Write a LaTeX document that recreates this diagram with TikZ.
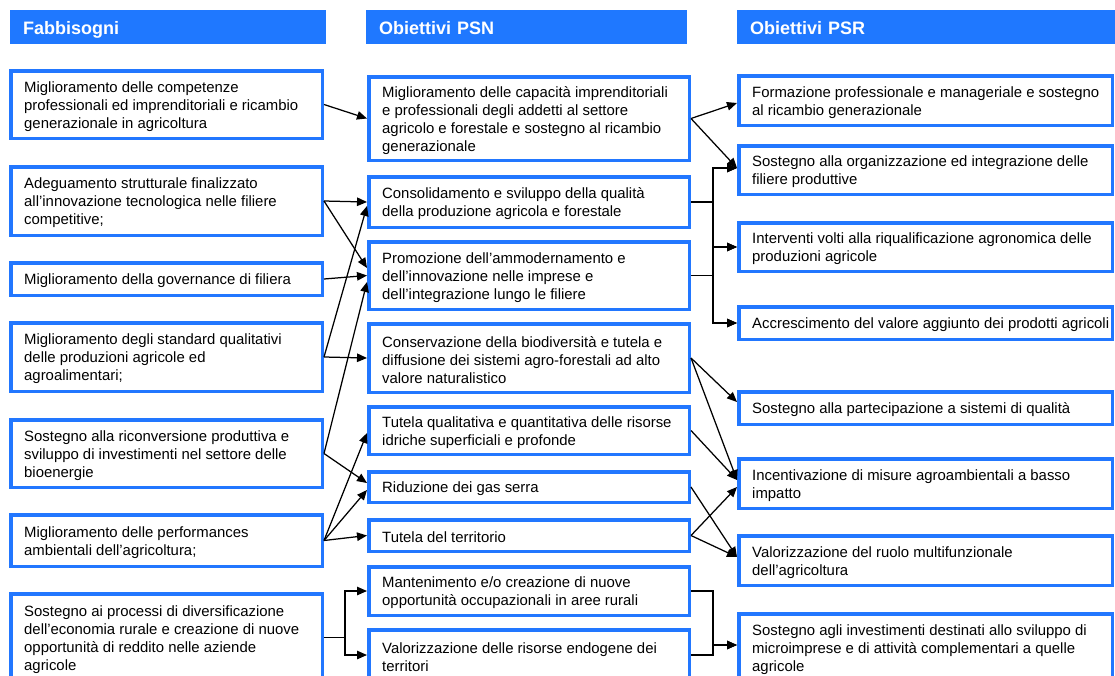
\documentclass[tikz,border=0pt]{standalone}
\usepackage{fontspec}
\setmainfont{Liberation Sans}
\usetikzlibrary{arrows.meta}
\definecolor{hdrblue}{RGB}{31,120,255}
\definecolor{edgeblue}{RGB}{34,119,255}

% \boxcell{name}{x1}{y1}{x2}{y2}{text}: framed box given by its outer edges,
% with its text set flush left inside it
\newcommand{\boxcell}[6]{%
  \pgfmathsetmacro{\cw}{#4-#2-3.5}%
  \pgfmathsetmacro{\ch}{#5-#3-3.5}%
  \node[cellbox, minimum width=\cw pt, minimum height=\ch pt] (#1) at ({(#2+#4)/2},{(#3+#5)/2}) {};
  \node[celltext] (#1t) at ([xshift=15pt,yshift=-2pt]#1.west) {#6};
}

\begin{document}
\begin{tikzpicture}[x=1pt,y=-1pt,
  hdr/.style={fill=hdrblue, draw=none, text=white, font=\fontsize{18}{21}\selectfont\bfseries,
    anchor=north west, minimum height=34pt, inner xsep=13pt, inner ysep=0pt, align=left,
    text height=14pt, text depth=0pt},
  cellbox/.style={draw=edgeblue, line width=3.5pt, fill=white, inner sep=0pt},
  celltext/.style={anchor=west, inner sep=0pt, align=left, font=\fontsize{14.9}{18}\selectfont},
  link/.style={draw=black, line width=1.25pt, -{Triangle[length=10pt,width=8.5pt]}},
]
\useasboundingbox (0,0) rectangle (1115,675);

% column headers
\node[hdr, text width=290pt] (h1) at (10,10) {Fabbisogni};
\node[hdr, text width=295pt] (h2) at (366,10) {Obiettivi PSN};
\node[hdr, text width=352pt] (h3) at (737,10) {Obiettivi PSR};

% needs
\boxcell{L1}{9}{69}{324}{140}{Miglioramento delle competenze\\professionali ed imprenditoriali e ricambio\\generazionale in agricoltura}
\boxcell{L2}{9}{165}{324}{237}{Adeguamento strutturale finalizzato\\all’innovazione tecnologica nelle filiere\\competitive;}
\boxcell{L3}{9}{261}{324}{297}{Miglioramento della governance di filiera}
\boxcell{L4}{9}{321}{324}{393}{Miglioramento degli standard qualitativi\\delle produzioni agricole ed\\agroalimentari;}
\boxcell{L5}{9}{418}{324}{489}{Sostegno alla riconversione produttiva e\\sviluppo di investimenti nel settore delle\\bioenergie}
\boxcell{L6}{9}{513}{324}{568}{Miglioramento delle performances\\ambientali dell’agricoltura;}
\boxcell{L7}{9}{592}{324}{683}{Sostegno ai processi di diversificazione\\dell’economia rurale e creazione di nuove\\opportunità di reddito nelle aziende\\agricole}

% PSN objectives
\boxcell{M1}{367}{75}{691}{162}{Miglioramento delle capacità imprenditoriali\\e professionali degli addetti al settore\\agricolo e forestale e sostegno al ricambio\\generazionale}
\boxcell{M2}{367}{175}{691}{229}{Consolidamento e sviluppo della qualità\\della produzione agricola e forestale}
\boxcell{M3}{367}{240}{691}{311}{Promozione dell’ammodernamento e\\dell’innovazione nelle imprese e\\dell’integrazione lungo le filiere}
\boxcell{M4}{367}{322}{691}{394}{Conservazione della biodiversità e tutela e\\diffusione dei sistemi agro-forestali ad alto\\valore naturalistico}
\boxcell{M5}{367}{405}{691}{456}{Tutela qualitativa e quantitativa delle risorse\\idriche superficiali e profonde}
\boxcell{M6}{367}{470}{691}{504}{Riduzione dei gas serra}
\boxcell{M7}{367}{518}{691}{553}{Tutela del territorio}
\boxcell{M8}{367}{565}{691}{617}{Mantenimento e/o creazione di nuove\\opportunità occupazionali in aree rurali}
\boxcell{M9}{367}{628}{691}{682}{Valorizzazione delle risorse endogene dei\\territori}

% PSR objectives
\boxcell{R1}{737}{74}{1114}{127}{Formazione professionale e manageriale e sostegno\\al ricambio generazionale}
\boxcell{R2}{737}{144}{1114}{196}{Sostegno alla organizzazione ed integrazione delle\\filiere produttive}
\boxcell{R3}{737}{221}{1114}{273}{Interventi volti alla riqualificazione agronomica delle\\produzioni agricole}
\boxcell{R4}{737}{305}{1114}{341}{Accrescimento del valore aggiunto dei prodotti agricoli}
\boxcell{R5}{737}{390}{1114}{426}{Sostegno alla partecipazione a sistemi di qualità}
\boxcell{R6}{737}{457}{1114}{510}{Incentivazione di misure agroambientali a basso\\impatto}
\boxcell{R7}{737}{534}{1114}{587}{Valorizzazione del ruolo multifunzionale\\dell’agricoltura}
\boxcell{R8}{737}{612}{1114}{683}{Sostegno agli investimenti destinati allo sviluppo di\\microimprese e di attività complementari a quelle\\agricole}

% needs -> PSN objectives
\draw[link] (L1.east) -- (M1.west);
\draw[link] (L2.east) -- (M2.west);
\draw[link] (L2.east) -- ([yshift=7.5pt]M3.west);
\draw[link] (L3.east) -- (M3.west);
\draw[link] (L4.east) -- ([yshift=-4pt]M2.west);
\draw[link] (L4.east) -- (M4.west);
\draw[link] (L5.east) -- ([yshift=-6.5pt]M3.west);
\draw[link] (L5.east) -- ([yshift=4pt]M6.west);
\draw[link] (L6.east) -- ([yshift=-2.5pt]M5.west);
\draw[link] (L6.east) -- ([yshift=-3pt]M6.west);
\draw[link] (L6.east) -- (M7.west);
\draw[link] (L7.east) -- ++(21,0) |- (M8.west);
\draw[link] (L7.east) -- ++(21,0) |- (M9.west);

% PSN objectives -> PSR objectives
\draw[link] (M1.east) -- ([yshift=-2.5pt]R1.west);
\draw[link] (M1.east) -- ([yshift=2pt]R2.west);
\foreach \s in {M2,M3} {
  \draw[link] (\s.east) -- ++(22,0) |- ([yshift=2pt]R2.west);
  \draw[link] (\s.east) -- ++(22,0) |- (R3.west);
  \draw[link] (\s.east) -- ++(22,0) |- (R4.west);
}
\draw[link] (M4.east) -- ([yshift=6pt]R5.west);
\draw[link] (M4.east) -- ([yshift=3.5pt]R6.west);
\draw[link] (M5.east) -- ([yshift=3.5pt]R6.west);
\draw[link] (M6.east) -- ([yshift=3.5pt]R7.west);
\draw[link] (M7.east) -- ([yshift=-3.5pt]R6.west);
\draw[link] (M7.east) -- ([yshift=3.5pt]R7.west);
\draw[link] (M8.east) -- ++(22,0) |- ([yshift=2.5pt]R8.west);
\draw[link] (M9.east) -- ++(22,0) |- ([yshift=2.5pt]R8.west);
\end{tikzpicture}
\end{document}
